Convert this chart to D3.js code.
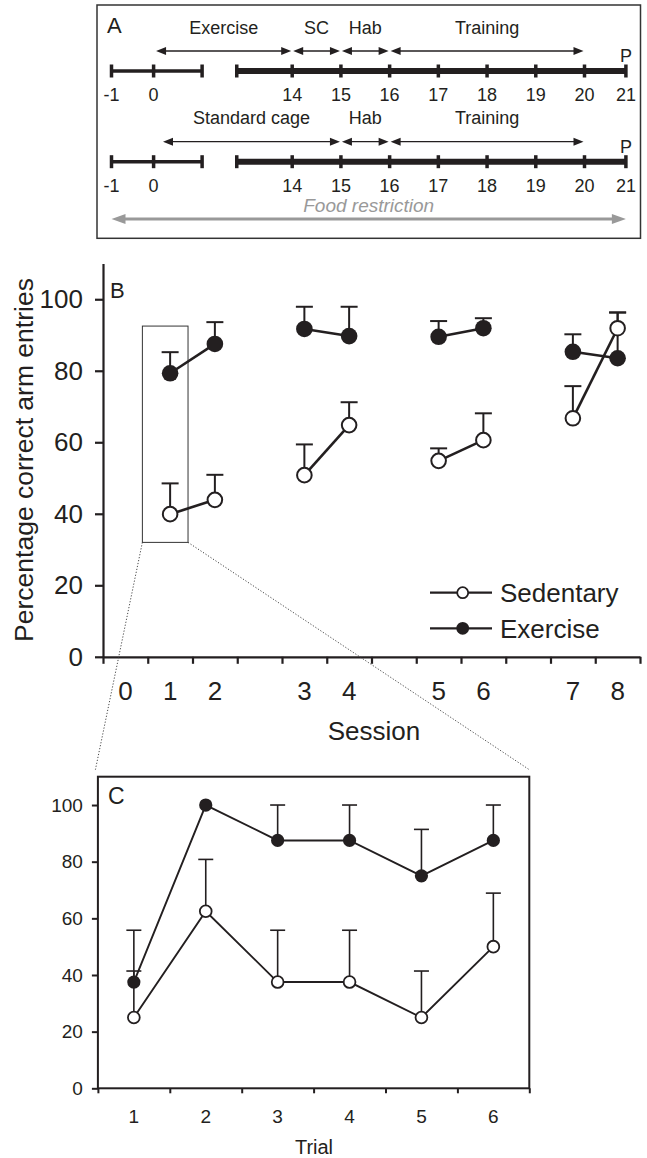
<!DOCTYPE html>
<html>
<head>
<meta charset="utf-8">
<script src="https://cdn.jsdelivr.net/npm/d3@7"></script>
<style>
  body { margin: 0; background: #fff; }
  text { font-family: "Liberation Sans", Arial, sans-serif; fill: #231f20; }
</style>
</head>
<body>
<script>
// ---- panel A: protocol timeline ----
const timelineDays = [-1, 0, 14, 15, 16, 17, 18, 19, 20, 21];
const timelineBreak = [4.9, 8.4];           // gap in the time axis (in day units of the scale)
const exPeriods = ["Exercise", "SC", "Hab", "Training"];
const exStarts = [0.15, 14, 15, 16];
const exEnds = [14, 15, 16, 20];
const scPeriods = ["Standard cage", "Hab", "Training"];
const scStarts = [0.85, 15, 16];
const scEnds = [15, 16, 20];

// ---- panel B: sessions ----
const sessionLabels = ["0", "1", "2", "3", "4", "5", "6", "7", "8"];
const sessionSlot = [0.5, 1.5, 2.5, 4.5, 5.5, 7.5, 8.5, 10.5, 11.5];
const sessionPairs = [[1, 2], [3, 4], [5, 6], [7, 8]];
const sedB = [null, 39.9, 43.9, 50.8, 64.8, 54.8, 60.6, 66.7, 91.9];
const sedBSem = [null, 8.6, 7.0, 8.6, 6.4, 3.5, 7.5, 9.0, 4.4];
const exB = [null, 79.3, 87.5, 91.7, 89.7, 89.5, 91.9, 85.3, 83.5];
const exBSem = [null, 5.9, 6.1, 6.2, 8.2, 4.4, 2.8, 4.9, 12.8];
const yTicksB = [0, 20, 40, 60, 80, 100];

// ---- panel C: trials of session 1 ----
const trials = [1, 2, 3, 4, 5, 6];
const sedC = [25, 62.5, 37.5, 37.5, 25, 50];
const sedCSem = [16.4, 18.3, 18.3, 18.3, 16.4, 18.9];
const exC = [37.5, 100, 87.5, 87.5, 75, 87.5];
const exCSem = [18.3, 0, 12.5, 12.5, 16.4, 12.5];
const yTicksC = [0, 20, 40, 60, 80, 100];

const ink = "#231f20";
const W = 647, H = 1158;

const svg = d3.select("body").append("svg")
    .attr("width", W)
    .attr("height", H);

// ================= Panel A =================
const xDay = d3.scaleLinear()
    .domain([-1, 0, 14, 20, 21])
    .range([111.5, 153.6, 292.2, 584.5, 625.9]);

const gA = svg.append("g");
gA.append("rect")
    .attr("x", 97).attr("y", 5)
    .attr("width", 543.5).attr("height", 233.3)
    .attr("fill", "none")
    .attr("stroke", "#333")
    .attr("stroke-width", 1.5);

gA.append("text")
    .attr("x", 107).attr("y", 33)
    .style("font-size", "22px")
    .text("A");

function arrowHead(g, x, y, dir, len, half, color) {
    // dir = -1 points left, +1 points right
    g.append("path")
        .attr("d", "M" + x + "," + y + "L" + (x - dir * len) + "," + (y - half) + "L" + (x - dir * len) + "," + (y + half) + "Z")
        .attr("fill", color);
}

function drawRow(base, labels, starts, ends) {
    const g = gA.append("g");
    // time axis with break; the part before the break is drawn thinner
    const segs = [[-1, timelineBreak[0], 3.5], [timelineBreak[1], 21, 6]];
    segs.forEach(s => {
        g.append("line")
            .attr("x1", xDay(s[0])).attr("x2", xDay(s[1]))
            .attr("y1", base).attr("y2", base)
            .attr("stroke", ink).attr("stroke-width", s[2]);
    });
    const tickAt = timelineDays.concat(timelineBreak);
    g.selectAll(".tk").data(tickAt).enter().append("line")
        .attr("x1", d => xDay(d)).attr("x2", d => xDay(d))
        .attr("y1", base - 6.5).attr("y2", base + 6.5)
        .attr("stroke", ink).attr("stroke-width", 3.5);
    g.selectAll(".num").data(timelineDays).enter().append("text")
        .attr("x", d => xDay(d))
        .attr("y", base + 30)
        .attr("text-anchor", "middle")
        .style("font-size", "18px")
        .text(d => d);
    g.append("text")
        .attr("x", xDay(21)).attr("y", base - 9)
        .attr("text-anchor", "middle")
        .style("font-size", "18px")
        .text("P");
    // period arrows
    const ay = base - 20;
    labels.forEach((lab, i) => {
        const x1 = xDay(starts[i]) + 1, x2 = xDay(ends[i]) - 1;
        g.append("line")
            .attr("x1", x1 + 4).attr("x2", x2 - 4)
            .attr("y1", ay).attr("y2", ay)
            .attr("stroke", ink).attr("stroke-width", 1.3);
        arrowHead(g, x1, ay, -1, 10, 4, ink);
        arrowHead(g, x2, ay, 1, 10, 4, ink);
        g.append("text")
            .attr("x", (x1 + x2) / 2)
            .attr("y", base - 37.5)
            .attr("text-anchor", "middle")
            .style("font-size", "18px")
            .text(lab);
    });
}
drawRow(71, exPeriods, exStarts, exEnds);
drawRow(161.7, scPeriods, scStarts, scEnds);

// food restriction arrow
const fy = 219;
gA.append("line")
    .attr("x1", xDay(-1) + 8).attr("x2", xDay(21) - 8)
    .attr("y1", fy).attr("y2", fy)
    .attr("stroke", "#999").attr("stroke-width", 3);
arrowHead(gA, xDay(-1), fy, -1, 14, 5, "#999");
arrowHead(gA, xDay(21), fy, 1, 14, 5, "#999");
gA.append("text")
    .attr("x", (xDay(-1) + xDay(21)) / 2)
    .attr("y", 212)
    .attr("text-anchor", "middle")
    .style("font-size", "19px")
    .style("font-style", "italic")
    .style("fill", "#999")
    .text("Food restriction");

// ================= Panel B =================
const xB = d3.scaleLinear().domain([0, 12]).range([103, 640]);
const yB = d3.scaleLinear().domain([0, 110]).range([656.8, 263.5]);
const gB = svg.append("g");

const yAxisB = d3.axisLeft(yB).tickValues(yTicksB).tickSize(8).tickSizeOuter(0).tickPadding(12);
gB.append("g")
    .attr("transform", "translate(" + xB(0) + ",0)")
    .call(yAxisB)
    .call(g => g.selectAll("text").style("font-size", "26px").attr("font-family", null))
    .call(g => g.selectAll("path,line").attr("stroke", ink).attr("stroke-width", 2.2));

const xAxisB = d3.axisBottom(xB).tickValues(d3.range(13)).tickSize(7).tickSizeOuter(0).tickFormat("");
gB.append("g")
    .attr("transform", "translate(0," + yB(0) + ")")
    .call(xAxisB)
    .call(g => g.selectAll("path,line").attr("stroke", ink).attr("stroke-width", 2.2));

gB.selectAll(".slab").data(sessionLabels).enter().append("text")
    .attr("x", (d, i) => xB(sessionSlot[i]))
    .attr("y", 700)
    .attr("text-anchor", "middle")
    .style("font-size", "26px")
    .text(d => d);

gB.append("text")
    .attr("x", 374).attr("y", 740)
    .attr("text-anchor", "middle")
    .style("font-size", "26px")
    .text("Session");

gB.append("text")
    .attr("transform", "rotate(-90)")
    .attr("x", -460).attr("y", 33)
    .attr("text-anchor", "middle")
    .style("font-size", "26.5px")
    .text("Percentage correct arm entries");

gB.append("text")
    .attr("x", 110).attr("y", 298.3)
    .style("font-size", "22px")
    .text("B");

// zoom box around session 1 and dotted leaders to panel C
const zx0 = xB(0.88), zx1 = xB(1.9), zyTop = yB(92.5), zyBot = yB(32);
gB.append("rect")
    .attr("x", zx0).attr("y", zyTop)
    .attr("width", zx1 - zx0).attr("height", zyBot - zyTop)
    .attr("fill", "none").attr("stroke", "#333").attr("stroke-width", 1);

function seriesB(vals, sems) {
    const pts = sessionLabels.map((s, i) => ({ x: xB(sessionSlot[i]), v: vals[i], e: sems[i] })).filter(p => p.v !== null);
    const byIdx = i => ({ x: xB(sessionSlot[i]), y: yB(vals[i]) });
    const line = d3.line().x(d => d.x).y(d => d.y);
    sessionPairs.forEach(pr => {
        gB.append("path")
            .attr("d", line(pr.map(byIdx)))
            .attr("fill", "none").attr("stroke", ink).attr("stroke-width", 2.6);
    });
    pts.forEach(p => {
        gB.append("line")
            .attr("x1", p.x).attr("x2", p.x)
            .attr("y1", yB(p.v)).attr("y2", yB(p.v + p.e))
            .attr("stroke", ink).attr("stroke-width", 2);
        gB.append("line")
            .attr("x1", p.x - 8.5).attr("x2", p.x + 8.5)
            .attr("y1", yB(p.v + p.e)).attr("y2", yB(p.v + p.e))
            .attr("stroke", ink).attr("stroke-width", 2);
    });
    return pts;
}
const exPtsB = seriesB(exB, exBSem);
const sedPtsB = seriesB(sedB, sedBSem);
gB.selectAll(".exdot").data(exPtsB).enter().append("circle")
    .attr("cx", d => d.x).attr("cy", d => yB(d.v))
    .attr("r", 8.3).attr("fill", ink);
gB.selectAll(".seddot").data(sedPtsB).enter().append("circle")
    .attr("cx", d => d.x).attr("cy", d => yB(d.v))
    .attr("r", 7.3).attr("fill", "#fff").attr("stroke", ink).attr("stroke-width", 2);

// legend
const legend = [{ name: "Sedentary", fill: "#fff", y: 592.7 }, { name: "Exercise", fill: ink, y: 628.3 }];
legend.forEach(l => {
    gB.append("line")
        .attr("x1", 430).attr("x2", 492)
        .attr("y1", l.y).attr("y2", l.y)
        .attr("stroke", ink).attr("stroke-width", 2.2);
    gB.append("circle")
        .attr("cx", 462.7).attr("cy", l.y).attr("r", 5.5)
        .attr("fill", l.fill).attr("stroke", ink).attr("stroke-width", 1.8);
    gB.append("text")
        .attr("x", 500).attr("y", l.y + 9.5)
        .style("font-size", "26px")
        .text(l.name);
});

// ================= Panel C =================
const xC = d3.scaleLinear().domain([0, 6]).range([97.9, 529.3]);
const yC = d3.scaleLinear().domain([0, 110]).range([1088.3, 776.7]);
const gC = svg.append("g");

svg.append("line")
    .attr("x1", zx0).attr("y1", zyBot)
    .attr("x2", xC(0) - 2.5).attr("y2", yC(110) - 7)
    .attr("stroke", "#333").attr("stroke-width", 0.9).attr("stroke-dasharray", "1.2,1.8");
svg.append("line")
    .attr("x1", zx1).attr("y1", zyBot)
    .attr("x2", xC(6)).attr("y2", yC(110) - 7)
    .attr("stroke", "#333").attr("stroke-width", 0.9).attr("stroke-dasharray", "1.2,1.8");

gC.append("rect")
    .attr("x", xC(0)).attr("y", yC(110))
    .attr("width", xC(6) - xC(0)).attr("height", yC(0) - yC(110))
    .attr("fill", "none").attr("stroke", ink).attr("stroke-width", 2);

gC.append("g")
    .attr("transform", "translate(" + xC(0) + ",0)")
    .call(d3.axisLeft(yC).tickValues(yTicksC).tickSize(6).tickSizeOuter(0).tickPadding(9))
    .call(g => g.select(".domain").remove())
    .call(g => g.selectAll("text").style("font-size", "19px").attr("font-family", null))
    .call(g => g.selectAll("line").attr("stroke", ink).attr("stroke-width", 2));

gC.append("g")
    .attr("transform", "translate(0," + yC(0) + ")")
    .call(d3.axisBottom(xC).tickValues(d3.range(7)).tickSize(5).tickSizeOuter(0).tickFormat(""))
    .call(g => g.select(".domain").remove())
    .call(g => g.selectAll("line").attr("stroke", ink).attr("stroke-width", 2));

gC.selectAll(".tlab").data(trials).enter().append("text")
    .attr("x", d => xC(d - 0.5))
    .attr("y", 1122.7)
    .attr("text-anchor", "middle")
    .style("font-size", "19px")
    .text(d => d);

gC.append("text")
    .attr("x", 314).attr("y", 1154)
    .attr("text-anchor", "middle")
    .style("font-size", "20px")
    .text("Trial");

gC.append("text")
    .attr("x", 108).attr("y", 804.3)
    .style("font-size", "23px")
    .text("C");

const lineC = d3.line().x((d, i) => xC(trials[i] - 0.5)).y(d => yC(d));
[exC, sedC].forEach(vals => {
    gC.append("path")
        .attr("d", lineC(vals))
        .attr("fill", "none").attr("stroke", ink).attr("stroke-width", 1.9);
});
[[exC, exCSem], [sedC, sedCSem]].forEach(([vals, sems]) => {
    vals.forEach((v, i) => {
        if (!sems[i]) return;
        const x = xC(trials[i] - 0.5);
        gC.append("line")
            .attr("x1", x).attr("x2", x)
            .attr("y1", yC(v)).attr("y2", yC(v + sems[i]))
            .attr("stroke", ink).attr("stroke-width", 1.6);
        gC.append("line")
            .attr("x1", x - 7.5).attr("x2", x + 7.5)
            .attr("y1", yC(v + sems[i])).attr("y2", yC(v + sems[i]))
            .attr("stroke", ink).attr("stroke-width", 1.6);
    });
});
gC.selectAll(".exc").data(exC).enter().append("circle")
    .attr("cx", (d, i) => xC(trials[i] - 0.5)).attr("cy", d => yC(d))
    .attr("r", 6.6).attr("fill", ink);
gC.selectAll(".sedc").data(sedC).enter().append("circle")
    .attr("cx", (d, i) => xC(trials[i] - 0.5)).attr("cy", d => yC(d))
    .attr("r", 5.9).attr("fill", "#fff").attr("stroke", ink).attr("stroke-width", 1.8);
</script>
</body>
</html>
